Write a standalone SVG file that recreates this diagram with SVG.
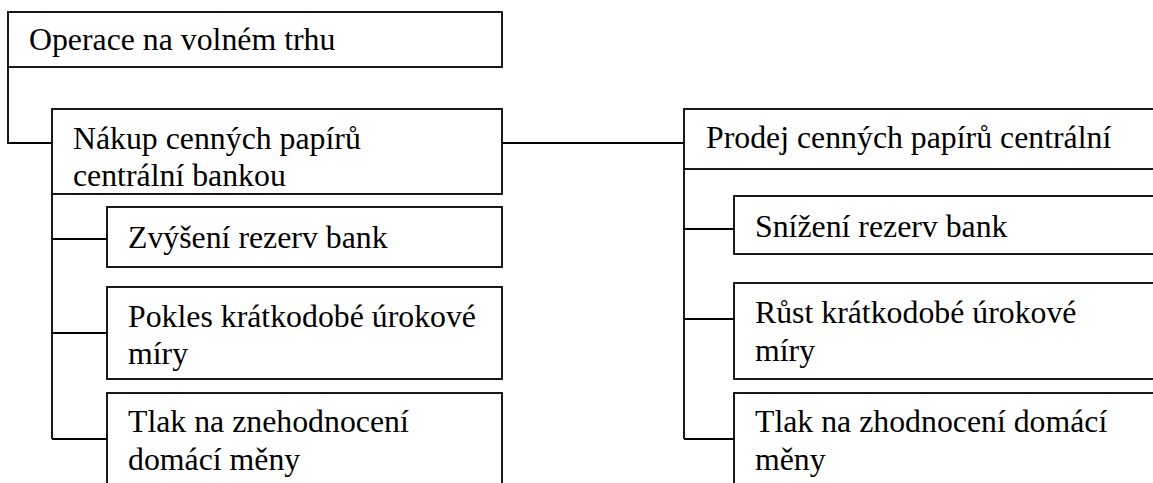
<svg xmlns="http://www.w3.org/2000/svg" width="1153" height="483" viewBox="0 0 1153 483">
  <style>
    .box { fill: #ffffff; stroke: #000000; stroke-width: 1.8; }
    .wire { fill: none; stroke: #000000; stroke-width: 1.8; }
    .lbl { font-family: "Liberation Serif", "Times New Roman", serif; font-size: 31.8px; fill: #000000; }
  </style>
  <rect x="0" y="0" width="1153" height="483" fill="#ffffff"/>

  <!-- tree connectors -->
  <g id="connectors">
    <polyline class="wire" points="8,67 8,143 52,143"/>
    <line class="wire" x1="502" y1="143" x2="684" y2="143"/>
    <!-- left branch -->
    <line class="wire" x1="52" y1="194" x2="52" y2="439"/>
    <line class="wire" x1="52" y1="239" x2="107" y2="239"/>
    <line class="wire" x1="52" y1="333" x2="107" y2="333"/>
    <line class="wire" x1="52" y1="439" x2="107" y2="439"/>
    <!-- right branch -->
    <line class="wire" x1="684" y1="169" x2="684" y2="439"/>
    <line class="wire" x1="684" y1="229" x2="734" y2="229"/>
    <line class="wire" x1="684" y1="319" x2="734" y2="319"/>
    <line class="wire" x1="684" y1="439" x2="734" y2="439"/>
  </g>

  <g id="root">
    <rect class="box" x="8" y="12" width="494" height="55"/>
    <text class="lbl" x="29" y="50">Operace na volném trhu</text>
  </g>

  <g id="buy">
    <rect class="box" x="52" y="109" width="450" height="85"/>
    <text class="lbl" x="73" y="149">Nákup cenných papírů</text>
    <text class="lbl" x="73" y="186">centrální bankou</text>
  </g>

  <g id="buy-reserves">
    <rect class="box" x="107" y="207" width="395" height="60"/>
    <text class="lbl" x="128" y="248">Zvýšení rezerv bank</text>
  </g>

  <g id="buy-rate">
    <rect class="box" x="107" y="287" width="395" height="92"/>
    <text class="lbl" x="128" y="327">Pokles krátkodobé úrokové</text>
    <text class="lbl" x="128" y="364">míry</text>
  </g>

  <g id="buy-currency">
    <rect class="box" x="107" y="393" width="395" height="100"/>
    <text class="lbl" x="128" y="432">Tlak na znehodnocení</text>
    <text class="lbl" x="128" y="470">domácí měny</text>
  </g>

  <g id="sell">
    <rect class="box" x="684" y="109" width="480" height="60"/>
    <text class="lbl" x="706" y="148">Prodej cenných papírů centrální</text>
  </g>

  <g id="sell-reserves">
    <rect class="box" x="734" y="196" width="430" height="58"/>
    <text class="lbl" x="755" y="237">Snížení rezerv bank</text>
  </g>

  <g id="sell-rate">
    <rect class="box" x="734" y="283" width="430" height="96"/>
    <text class="lbl" x="755" y="323">Růst krátkodobé úrokové</text>
    <text class="lbl" x="755" y="361">míry</text>
  </g>

  <g id="sell-currency">
    <rect class="box" x="734" y="393" width="430" height="100"/>
    <text class="lbl" x="755" y="432">Tlak na zhodnocení domácí</text>
    <text class="lbl" x="755" y="470">měny</text>
  </g>
</svg>
